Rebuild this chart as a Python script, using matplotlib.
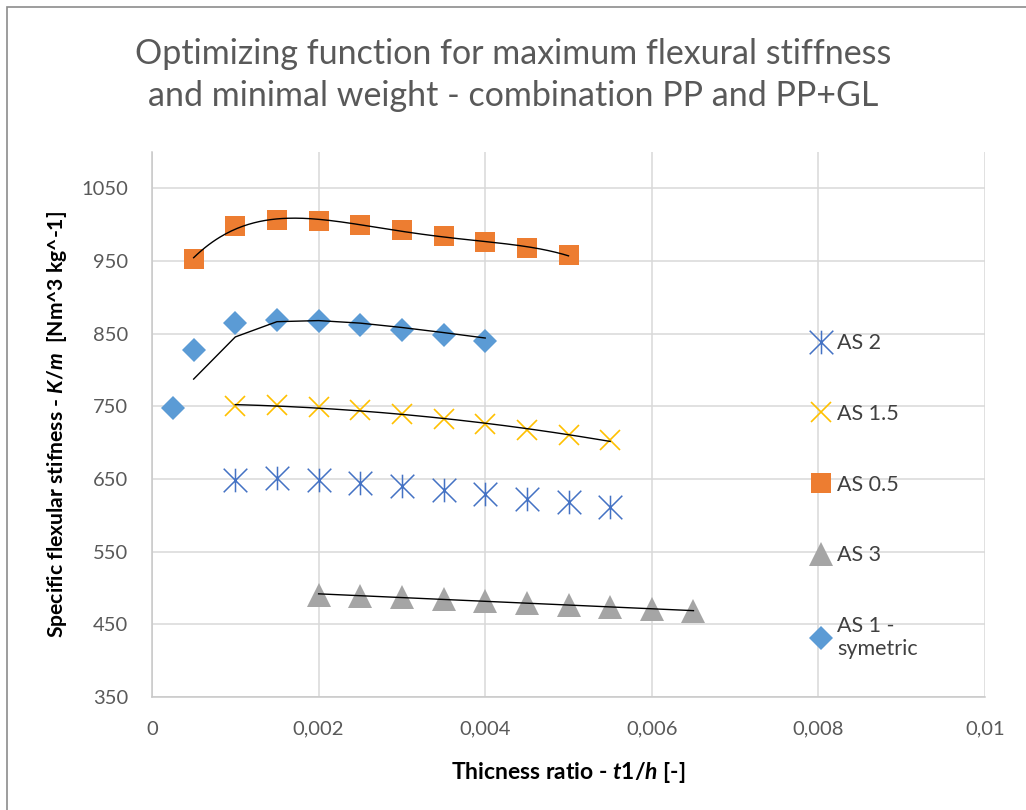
import numpy as np
import matplotlib
matplotlib.use("Agg")
import matplotlib.pyplot as plt
from matplotlib.path import Path
from matplotlib.patches import Rectangle

FONT = "Lato"
plt.rcParams["font.family"] = [FONT, "DejaVu Sans"]
plt.rcParams["mathtext.fontset"] = "custom"
plt.rcParams["mathtext.it"] = f"{FONT}:italic:bold"
plt.rcParams["mathtext.rm"] = f"{FONT}:bold"

# ---- data -------------------------------------------------------------
x_as2 = [0.001, 0.0015, 0.002, 0.0025, 0.003, 0.0035, 0.004, 0.0045, 0.005, 0.0055]
y_as2 = [648, 652, 649, 645, 640, 635, 629, 623, 618, 612]

x_as15 = [0.001, 0.0015, 0.002, 0.0025, 0.003, 0.0035, 0.004, 0.0045, 0.005, 0.0055]
y_as15 = [750, 752, 749, 745, 739, 732, 726, 718, 711, 703]

x_as05 = [0.0005, 0.001, 0.0015, 0.002, 0.0025, 0.003, 0.0035, 0.004, 0.0045, 0.005]
y_as05 = [953, 998, 1006, 1005, 1000, 992, 985, 976, 968, 958]

x_as3 = [0.002, 0.0025, 0.003, 0.0035, 0.004, 0.0045, 0.005, 0.0055, 0.006, 0.0065]
y_as3 = [491, 489, 487, 485, 482, 480, 477, 474, 471, 468]

x_as1 = [0.00025, 0.0005, 0.001, 0.0015, 0.002, 0.0025, 0.003, 0.0035, 0.004]
y_as1 = [748, 827, 864, 869, 867, 862, 855, 848, 840]

x_ticks = [0, 0.002, 0.004, 0.006, 0.008, 0.01]
x_tick_labels = ["0", "0,002", "0,004", "0,006", "0,008", "0,01"]
y_ticks = [350, 450, 550, 650, 750, 850, 950, 1050]

title_text = ("Optimizing function for maximum flexural stiffness\n"
              "and minimal weight - combination PP and PP+GL")
x_label = r"Thicness ratio - $t1/h$ [-]"
y_label = r"Specific flexular stifness - $K/m$  [Nm^3 kg^-1]"

# ---- colours ----------------------------------------------------------
C_AS2 = "#4472C4"
C_AS15 = "#FFC000"
C_AS05 = "#ED7D31"
C_AS3 = "#A5A5A5"
C_AS1 = "#5B9BD5"
GRID = "#D9D9D9"
TEXT_GREY = "#595959"

# asterisk marker: vertical stroke plus an X
star_marker = Path(
    [(0, -1), (0, 1), (-1, -1), (1, 1), (-1, 1), (1, -1)],
    [Path.MOVETO, Path.LINETO, Path.MOVETO, Path.LINETO, Path.MOVETO, Path.LINETO],
)

W, H = 1026, 810
fig = plt.figure(figsize=(W / 100, H / 100), dpi=100)
ax = fig.add_axes([152 / W, 1 - 697 / H, (985 - 152) / W, (697 - 152) / H])

# chart-area border
fig.patches.append(Rectangle((7 / W, -0.05), 1.1, 1 - 7 / H + 0.05,
                             transform=fig.transFigure, fill=False,
                             edgecolor="#8C8C8C", linewidth=1.2))

ax.set_xlim(0, 0.01)
ax.set_ylim(350, 1100)
ax.set_xticks(x_ticks)
ax.set_xticklabels(x_tick_labels)
ax.set_yticks(y_ticks)
ax.grid(True, color=GRID, linewidth=1.1, zorder=0)
ax.set_axisbelow(True)
for side in ("top", "right"):
    ax.spines[side].set_visible(False)
for side in ("left", "bottom"):
    ax.spines[side].set_color("#C8C8C8")
    ax.spines[side].set_linewidth(1.1)
ax.tick_params(length=0, labelsize=14.5, labelcolor=TEXT_GREY)
ax.tick_params(axis="y", pad=17)
ax.tick_params(axis="x", pad=17)

# series
h_as2, = ax.plot(x_as2, y_as2, linestyle="none", marker=star_marker,
                 markersize=17, markeredgecolor=C_AS2, markeredgewidth=1.1,
                 markerfacecolor="none", label="AS 2", zorder=3)
h_as15, = ax.plot(x_as15, y_as15, linestyle="none", marker="x",
                  markersize=15, markeredgecolor=C_AS15, markeredgewidth=1.2,
                  label="AS 1.5", zorder=3)
h_as05, = ax.plot(x_as05, y_as05, linestyle="none", marker="s",
                  markersize=14, color=C_AS05, markeredgewidth=0,
                  label="AS 0.5", zorder=3)
h_as3, = ax.plot(x_as3, y_as3, linestyle="none", marker="^",
                 markersize=17.5, color=C_AS3, markeredgewidth=0,
                 label="AS 3", zorder=3)
h_as1, = ax.plot(x_as1, y_as1, linestyle="none", marker="D",
                 markersize=12, color=C_AS1, markeredgewidth=0,
                 label="AS 1 -\nsymetric", zorder=3)

# trendlines
def poly_trend(xs, ys, deg):
    xs = np.asarray(xs)
    coef = np.polyfit(xs, ys, deg)
    xx = np.linspace(xs.min(), xs.max(), 200)
    return xx, np.polyval(coef, xx)

tl = dict(color="black", linewidth=1.0, zorder=4)
ax.plot(*poly_trend(x_as05, y_as05, 4), **tl)
ax.plot(*poly_trend(x_as15, y_as15, 2), **tl)
ax.plot(*poly_trend(x_as3, y_as3, 1), **tl)
# two-period moving average for the symmetric set
ma_x = x_as1[1:]
ma_y = [(a + b) / 2 for a, b in zip(y_as1[:-1], y_as1[1:])]
ax.plot(ma_x, ma_y, **tl)

leg = ax.legend(handles=[h_as2, h_as15, h_as05, h_as3, h_as1],
                loc="upper left", bbox_to_anchor=(0.78, 0.683),
                frameon=False, fontsize=15.5, labelspacing=2.35,
                handlelength=1.0, handletextpad=0.25, borderaxespad=0)
for t in leg.get_texts():
    t.set_color("#404040")

fig.text(0.5, 1 - 75 / H, title_text, ha="center", va="center",
         fontsize=24.5, color=TEXT_GREY, linespacing=1.4)
ax.set_xlabel(x_label, fontsize=16.5, fontweight="bold", labelpad=16)
ax.set_ylabel(y_label, fontsize=15.2, fontweight="bold", labelpad=9)

fig.savefig("out.png", dpi=100)
